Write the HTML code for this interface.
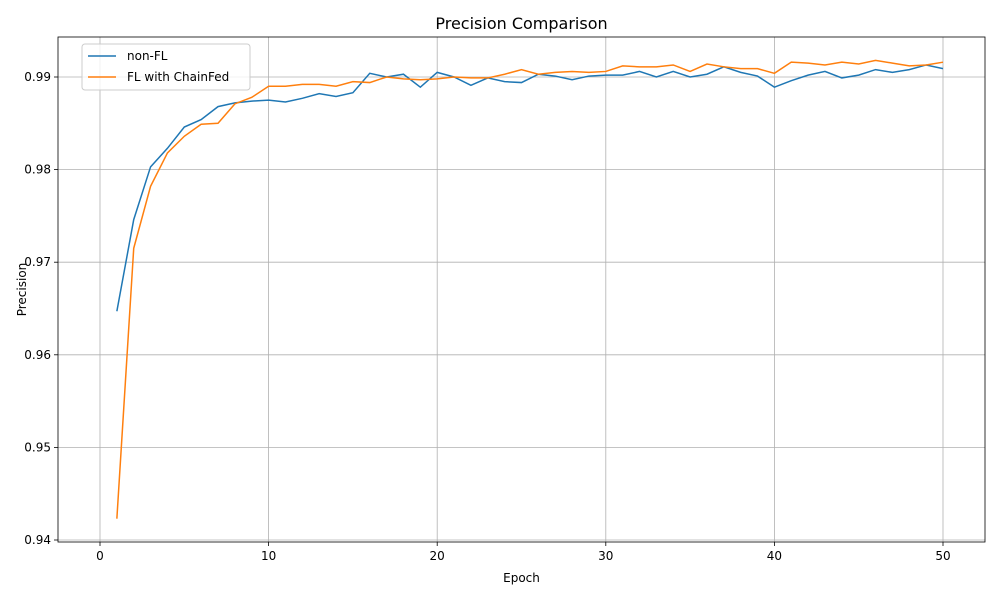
<!DOCTYPE html>
<html><head><meta charset="utf-8"><style>
body{margin:0;background:#fff;font-family:"Liberation Sans","DejaVu Sans",sans-serif;}
svg text{font-family:"DejaVu Sans","Liberation Sans",sans-serif;}
</style></head><body>
<svg id="chart" width="1000" height="600" xmlns="http://www.w3.org/2000/svg"></svg>
<script>
const epochs = Array.from({length:50},(_,i)=>i+1);
const nonFL = [0.9647,0.9746,0.9803,0.9823,0.9846,0.9854,0.9868,0.9872,0.9874,0.9875,0.9873,0.9877,0.9882,0.9879,0.9883,0.9904,0.9900,0.9903,0.9889,0.9905,0.9900,0.9891,0.9899,0.9895,0.9894,0.9903,0.9901,0.9897,0.9901,0.9902,0.9902,0.9906,0.9900,0.9906,0.9900,0.9903,0.9911,0.9905,0.9901,0.9889,0.9896,0.9902,0.9906,0.9899,0.9902,0.9908,0.9905,0.9908,0.9913,0.9909];
const flChainFed = [0.9423,0.9715,0.9782,0.9818,0.9836,0.9849,0.9850,0.9871,0.9878,0.9890,0.9890,0.9892,0.9892,0.9890,0.9895,0.9894,0.9900,0.9898,0.9897,0.9898,0.9900,0.9899,0.9899,0.9903,0.9908,0.9903,0.9905,0.9906,0.9905,0.9906,0.9912,0.9911,0.9911,0.9913,0.9906,0.9914,0.9911,0.9909,0.9909,0.9904,0.9916,0.9915,0.9913,0.9916,0.9914,0.9918,0.9915,0.9912,0.9913,0.9916];
const xTicks = [0,10,20,30,40,50];
const yTicks = [0.94,0.95,0.96,0.97,0.98,0.99];
const yTickLabels = ["0.94","0.95","0.96","0.97","0.98","0.99"];

const svg = document.getElementById('chart');
const NS = 'http://www.w3.org/2000/svg';
const L=58,R=985,T=37,B=542;
const xs = v => 100 + v*16.86;
const ys = v => 77 + (0.99 - v)*9260;
function mk(tag, attrs, parent){const e=document.createElementNS(NS,tag);for(const k in attrs)e.setAttribute(k,attrs[k]);(parent||svg).appendChild(e);return e;}

xTicks.forEach(t=>{
  const g=mk('g',{});
  
  
  mk('line',{x1:xs(t),x2:xs(t),y1:T,y2:B,stroke:'#b0b0b0','stroke-width':0.8},g);
  mk('line',{x1:xs(t),x2:xs(t),y1:B,y2:B+4,stroke:'#000','stroke-width':0.8},g);
  const tx=mk('text',{x:xs(t),y:B+18,'text-anchor':'middle','font-size':12},g);tx.textContent=t;
});
yTicks.forEach((t,i)=>{
  const g=mk('g',{});
  
  
  mk('line',{x1:L,x2:R,y1:ys(t),y2:ys(t),stroke:'#b0b0b0','stroke-width':0.8},g);
  mk('line',{x1:L-4,x2:L,y1:ys(t),y2:ys(t),stroke:'#000','stroke-width':0.8},g);
  const tx=mk('text',{x:L-7,y:ys(t)+4,'text-anchor':'end','font-size':12},g);tx.textContent=yTickLabels[i];
});
const frame=mk('rect',{x:L,y:T,width:R-L,height:B-T,fill:'none',stroke:'#000','stroke-width':0.8});



function series(vals,color,name){
  const p=mk('polyline',{points:vals.map((v,i)=>xs(epochs[i])+','+ys(v)).join(' '),fill:'none',stroke:color,'stroke-width':1.5});
  
  
}
series(nonFL,'#1f77b4','non-fl-line');
series(flChainFed,'#ff7f0e','fl-chainfed-line');

const title=mk('text',{x:(L+R)/2,y:29,'text-anchor':'middle','font-size':16});title.textContent='Precision Comparison';

const xl=mk('text',{x:(L+R)/2,y:582,'text-anchor':'middle','font-size':12});xl.textContent='Epoch';

const yl=mk('text',{x:26,y:(T+B)/2,'text-anchor':'middle','font-size':12,transform:'rotate(-90 26 '+((T+B)/2)+')'});yl.textContent='Precision';


const lg=mk('g',{});

mk('rect',{x:82,y:44,width:168,height:46,rx:3,fill:'#fff','fill-opacity':0.8,stroke:'#ccc'},lg);
[['non-FL','#1f77b4',56],['FL with ChainFed','#ff7f0e',77]].forEach(([n,c,y])=>{
  const e=mk('g',{},lg);
  
  
  mk('line',{x1:88,x2:116,y1:y,y2:y,stroke:c,'stroke-width':1.5},e);
  const t=mk('text',{x:127,y:y+4,'font-size':12},e);t.textContent=n;
});
</script>
</body></html>
